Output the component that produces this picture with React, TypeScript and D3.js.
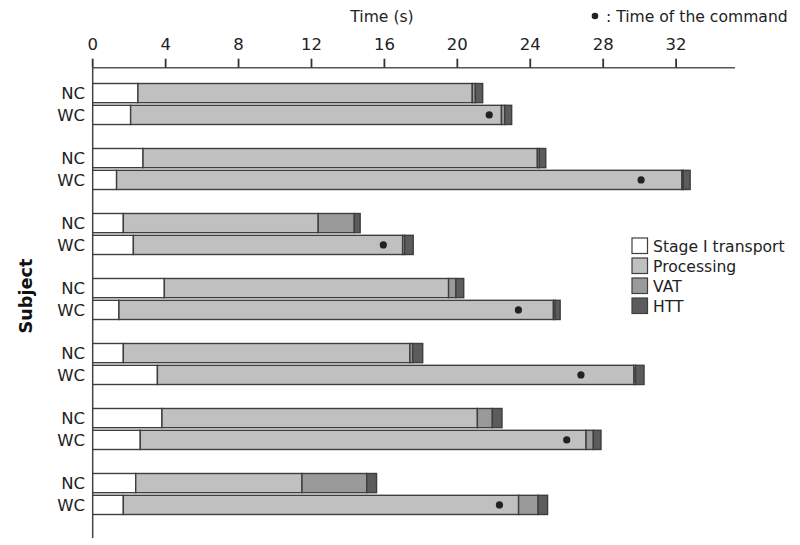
import React from 'react';
import * as d3 from 'd3';

const subjects = ['S1', 'S2', 'S3', 'S4', 'S5', 'S6', 'S7'];
const groups = ['NC', 'WC'];
const phases = ['Stage I transport', 'Processing', 'VAT', 'HTT'];

// durations (s) per phase, NC condition
const ncStage = [2.48, 2.76, 1.68, 3.93, 1.68, 3.8, 2.36];
const ncProcessing = [18.34, 21.63, 10.69, 15.59, 15.72, 17.3, 9.12];
const ncVAT = [0.17, 0.11, 1.98, 0.4, 0.15, 0.82, 3.55];
const ncHTT = [0.4, 0.35, 0.32, 0.43, 0.55, 0.53, 0.54];

// durations (s) per phase, WC condition
const wcStage = [2.08, 1.31, 2.23, 1.44, 3.55, 2.61, 1.68];
const wcProcessing = [20.34, 31.01, 14.77, 23.83, 26.14, 24.45, 21.68];
const wcVAT = [0.18, 0.07, 0.11, 0.09, 0.08, 0.4, 1.07];
const wcHTT = [0.38, 0.38, 0.47, 0.28, 0.47, 0.42, 0.52];

// time of the command (WC)
const commandTimes = [21.75, 30.08, 15.94, 23.35, 26.78, 26.0, 22.31];

const xTicks = [0, 4, 8, 12, 16, 20, 24, 28, 32];
const colors = ['#ffffff', '#c0c0c0', '#9a9a9a', '#5c5c5c'];

const FONT = 'DejaVu Sans, Verdana, sans-serif';

export default function App() {
  const x = d3.scaleLinear().domain([0, 35.23]).range([92.7, 735]);
  const y = d3
    .scaleBand<string>()
    .domain(subjects)
    .range([83.5, 514.5])
    .paddingInner(0.369)
    .paddingOuter(0);
  const yg = d3
    .scaleBand<string>()
    .domain(groups)
    .range([0, y.bandwidth()])
    .paddingInner(0.12);

  const rows = subjects.flatMap((s, i) => [
    {
      subject: s,
      group: 'NC',
      [phases[0]]: ncStage[i],
      [phases[1]]: ncProcessing[i],
      [phases[2]]: ncVAT[i],
      [phases[3]]: ncHTT[i],
      cmd: null as number | null,
    },
    {
      subject: s,
      group: 'WC',
      [phases[0]]: wcStage[i],
      [phases[1]]: wcProcessing[i],
      [phases[2]]: wcVAT[i],
      [phases[3]]: wcHTT[i],
      cmd: commandTimes[i] as number | null,
    },
  ]);

  const stacked = d3.stack<any>().keys(phases)(rows);

  const axisY = 67.7;
  const yTop = (r: any) => (y(r.subject) as number) + (yg(r.group) as number);

  return (
    <svg
      width={800}
      height={545}
      style={{ position: 'absolute', left: 0, top: 0, background: '#fff' }}
      fontFamily={FONT}
    >
      {/* Title of axis */}
      <text x={382} y={22} textAnchor="middle" fontSize={15.6} fill="#222">
        Time (s)
      </text>

      {/* Command legend */}
      <circle cx={595} cy={16} r={3.3} fill="#222" />
      <text x={606} y={22} fontSize={15.6} fill="#222">
        : Time of the command
      </text>

      {/* top axis */}
      <line x1={x(0)} x2={x(35.23)} y1={axisY} y2={axisY} stroke="#555" strokeWidth={1.5} />
      {xTicks.map((t) => (
        <g key={t}>
          <line x1={x(t)} x2={x(t)} y1={axisY} y2={axisY - 9} stroke="#333" strokeWidth={1.8} />
          <text x={x(t)} y={49.5} textAnchor="middle" fontSize={16.5} fill="#222">
            {t}
          </text>
        </g>
      ))}

      {/* left axis */}
      <line x1={x(0)} x2={x(0)} y1={axisY} y2={538} stroke="#444" strokeWidth={1.5} />

      {/* bars */}
      {stacked.map((layer, li) => (
        <g key={layer.key}>
          {layer.map((d: any, di: number) => {
            const r = rows[di];
            const w = x(d[1]) - x(d[0]);
            return (
              <rect
                key={di}
                x={x(d[0])}
                y={yTop(r)}
                width={Math.max(0, w)}
                height={yg.bandwidth()}
                fill={colors[li]}
                stroke="#3e3e3e"
                strokeWidth={1.4}
              />
            );
          })}
        </g>
      ))}

      {/* command dots */}
      {rows
        .filter((r) => r.cmd !== null)
        .map((r, i) => (
          <circle
            key={i}
            cx={x(r.cmd as number)}
            cy={yTop(r) + yg.bandwidth() / 2}
            r={3.6}
            fill="#222"
          />
        ))}

      {/* group labels */}
      {rows.map((r, i) => (
        <text
          key={i}
          x={85}
          y={yTop(r) + yg.bandwidth() / 2}
          dy="0.36em"
          textAnchor="end"
          fontSize={16.5}
          fill="#222"
        >
          {r.group}
        </text>
      ))}

      {/* Y axis title */}
      <text
        transform="translate(32,296) rotate(-90)"
        textAnchor="middle"
        fontSize={17.7}
        fontWeight="bold"
        fill="#111"
      >
        Subject
      </text>

      {/* legend */}
      {phases.map((p, i) => (
        <g key={p} transform={`translate(632,${238 + i * 20})`}>
          <rect x={0} y={0} width={15.5} height={15.5} fill={colors[i]} stroke="#3e3e3e" strokeWidth={1.2} />
          <text x={21} y={8} dy="0.36em" fontSize={15.6} fill="#222">
            {p}
          </text>
        </g>
      ))}
    </svg>
  );
}
